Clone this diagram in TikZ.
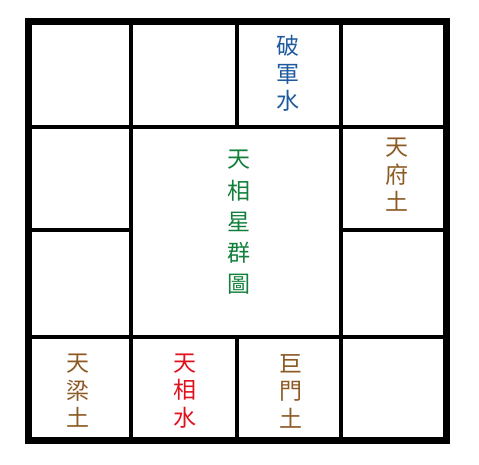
\documentclass[tikz,border=0pt]{standalone}
\usepackage{fontspec}
\newfontfamily\cjk{Noto Sans CJK TC}
\definecolor{pojunblue}{HTML}{1F5A9E}
\definecolor{tuearth}{HTML}{8C5A24}
\definecolor{xiangred}{HTML}{E0101C}
\definecolor{titlegreen}{HTML}{12803A}

\begin{document}
\begin{tikzpicture}[x=1pt,y=-1pt,
  star/.style={font=\cjk\fontsize{23}{27.5}\selectfont, align=center, inner sep=0pt},
  title/.style={font=\cjk\fontsize{23}{31.3}\selectfont, align=center, inner sep=0pt, text=titlegreen}]
  \useasboundingbox (0,0) rectangle (479,465);
  % palace lines
  \draw[line width=4pt]
    (131,21.7) -- (131,440) (341.3,21.7) -- (341.3,440)
    (236.5,21.7) -- (236.5,127) (236.5,337) -- (236.5,440)
    (28.5,127) -- (446.7,127) (28.5,337) -- (446.7,337)
    (28.5,230) -- (131,230) (341.3,230) -- (446.7,230);
  \draw[line width=7pt] (28.5,21.7) rectangle (446.7,440);
  % stars
  \node[star, text=pojunblue] (pojun) at (288.3,73.4) {破\\軍\\水};
  \node[star, text=tuearth] (tianfu) at (396.7,175) {天\\府\\土};
  \node[title] (chart) at (239,222.5) {天\\相\\星\\群\\圖};
  \node[star, text=tuearth] (tianliang) at (78.3,391) {天\\梁\\土};
  \node[star, text=xiangred] (tianxiang) at (185,391) {天\\相\\水};
  \node[star, text=tuearth] (jumen) at (290.7,391) {巨\\門\\土};
\end{tikzpicture}
\end{document}
